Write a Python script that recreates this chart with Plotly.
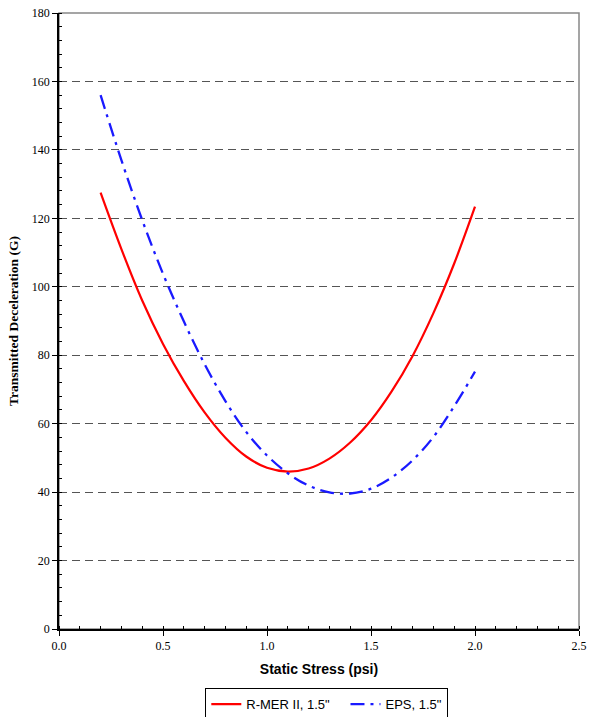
import plotly.graph_objects as go

stress = [0.2, 0.3, 0.4, 0.5, 0.6, 0.7, 0.8, 0.9, 1.0, 1.1,
          1.2, 1.3, 1.4, 1.5, 1.6, 1.7, 1.8, 1.9, 2.0]
rmer = [127.5, 111.0, 96.0, 83.3, 72.5, 63.3, 55.9, 50.4, 47.1, 46.0,
        46.9, 49.8, 54.5, 61.0, 69.5, 79.8, 92.3, 106.8, 123.4]
eps = [156.0, 137.0, 119.5, 103.8, 89.9, 77.4, 66.6, 57.6, 50.7, 45.5,
       41.9, 39.9, 39.6, 41.0, 44.3, 49.3, 56.1, 65.1, 75.2]

x_ticks = [0.0, 0.5, 1.0, 1.5, 2.0, 2.5]
x_labels = ["0.0", "0.5", "1.0", "1.5", "2.0", "2.5"]
y_ticks = [0, 20, 40, 60, 80, 100, 120, 140, 160, 180]

fig = go.Figure()
fig.add_trace(go.Scatter(x=stress, y=rmer, mode="lines", name='R-MER II, 1.5"   ',
                         line=dict(color="#ff0000", width=2.2, shape="spline")))
fig.add_trace(go.Scatter(x=stress, y=eps, mode="lines", name='EPS, 1.5"',
                         line=dict(color="#1a1aff", width=2.3, shape="spline",
                                   dash="14px,6px,3px,6px")))

serif = "Liberation Serif, Times New Roman, serif"
sans = "Liberation Sans, Arial, sans-serif"

fig.update_layout(
    width=589, height=717,
    margin=dict(l=59, r=10, t=13, b=88, autoexpand=False),
    paper_bgcolor="white", plot_bgcolor="white",
    showlegend=True,
    legend=dict(orientation="h", x=0.515, xanchor="center", y=-0.096, yanchor="top",
                bordercolor="black", borderwidth=1, bgcolor="white",
                font=dict(family=sans, size=13, color="black"),
                itemwidth=30, tracegroupgap=0),
    shapes=[dict(type="rect", xref="paper", yref="paper", x0=0, x1=1, y0=0, y1=1,
                 line=dict(color="#888888", width=1.5), layer="below")],
)

fig.update_xaxes(
    range=[0, 2.5], tickvals=x_ticks, ticktext=x_labels, automargin=False,
    showgrid=False, zeroline=False,
    showline=True, linecolor="black", linewidth=1.5,
    ticks="outside", ticklen=5, tickwidth=1, tickcolor="black",
    minor=dict(dtick=0.1, tick0=0, ticks="inside", ticklen=3, tickcolor="black", showgrid=False),
    tickfont=dict(family=serif, size=12, color="black"),
    title=dict(text="<b>Static Stress (psi)</b>", font=dict(family=sans, size=14, color="black"),
               standoff=12),
)
fig.update_yaxes(
    range=[0, 180], tickvals=y_ticks, automargin=False,
    showgrid=True, gridcolor="#555555", gridwidth=1, griddash="8px,5px",
    zeroline=False,
    showline=True, linecolor="black", linewidth=1.5,
    ticks="outside", ticklen=5, tickwidth=1, tickcolor="black",
    minor=dict(dtick=4, tick0=0, ticks="inside", ticklen=3, tickcolor="black", showgrid=False),
    tickfont=dict(family=serif, size=12, color="black"),
    title=dict(text="<b>Transmitted Deceleration (G)</b>",
               font=dict(family=serif, size=13.5, color="black"), standoff=10),
)

fig.write_html("out.html")
